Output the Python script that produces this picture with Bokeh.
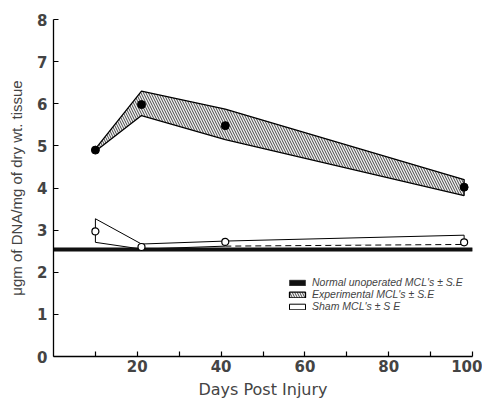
from bokeh.plotting import figure
from bokeh.models import Legend, LegendItem, FixedTicker, Range1d
from bokeh.embed import file_html
from bokeh.resources import INLINE

# ---- data ----
days = [10, 21, 41, 98]
exp_mean = [4.90, 5.98, 5.48, 4.02]
exp_upper = [4.93, 6.30, 5.87, 4.20]
exp_lower = [4.87, 5.72, 5.15, 3.82]

sham_mean = [2.97, 2.60, 2.72, 2.71]
sham_upper = [3.27, 2.67, 2.74, 2.88]
sham_lower = [2.71, 2.55, 2.62, 2.66]

normal_days = [0, 100]
normal_upper = [2.58, 2.58]
normal_lower = [2.50, 2.50]

x_major = [20, 40, 60, 80, 100]
x_minor = [10, 30, 50, 70, 90]
y_ticks = [0, 1, 2, 3, 4, 5, 6, 7, 8]

labels = ["Normal unoperated MCL's \u00b1 S.E",
          "Experimental MCL's \u00b1 S.E",
          "Sham MCL's \u00b1 S E"]

FONT = "Liberation Sans"
TFONT = "DejaVu Sans"

p = figure(width=482, height=401, output_backend="svg", toolbar_location=None,
           x_range=Range1d(0, 100), y_range=Range1d(0, 8),
           min_border_left=53, min_border_top=19, min_border_right=10, min_border_bottom=43)
p.outline_line_color = None
p.grid.grid_line_color = None

# sham band (outline only, transparent fill)
sham_xs = days + days[::-1]
sham_ys = sham_upper + sham_lower[::-1]
r_sham = p.patch(sham_xs, sham_ys, fill_color="white", fill_alpha=0.0,
                 line_color="black", line_width=1)
# dashed look of the lower edge on the late interval
p.line(days[2:], sham_lower[2:], line_color="white", line_width=2, line_dash="0 6 4 0")

# experimental band
exp_xs = days + days[::-1]
exp_ys = exp_upper + exp_lower[::-1]
r_exp = p.patch(exp_xs, exp_ys, fill_color="#f2f2f2", line_color="black", line_width=1.3,
                hatch_pattern="\\", hatch_color="#111111", hatch_alpha=0.85,
                hatch_scale=5, hatch_weight=0.9)

# normal band
norm_xs = normal_days + normal_days[::-1]
norm_ys = normal_upper + normal_lower[::-1]
r_norm = p.patch(norm_xs, norm_ys, fill_color="#111111", line_color="#111111", line_width=0.5)

# points
p.scatter(days, exp_mean, size=8, fill_color="black", line_color="black")
p.scatter(days, sham_mean, size=7, fill_color="white", line_color="black", line_width=1.2)

legend = Legend(items=[LegendItem(label=labels[0], renderers=[r_norm]),
                       LegendItem(label=labels[1], renderers=[r_exp]),
                       LegendItem(label=labels[2], renderers=[r_sham])],
                location=(234, 44), border_line_color=None, background_fill_alpha=0,
                padding=0, margin=0, spacing=0, glyph_width=20, glyph_height=7,
                label_height=11, label_standoff=5,
                label_text_font=FONT, label_text_font_style="italic",
                label_text_font_size="10.5px")
p.add_layout(legend, "center")

# axes
p.xaxis.ticker = FixedTicker(ticks=x_major, minor_ticks=x_minor)
p.yaxis.ticker = FixedTicker(ticks=y_ticks, minor_ticks=[])
for ax in (p.xaxis, p.yaxis):
    ax.major_tick_in = 5
    ax.major_tick_out = 0
    ax.axis_line_width = 1.3
    ax.major_tick_line_width = 1.2
    ax.major_label_text_font = TFONT
    ax.major_label_text_font_size = "15px"
    ax.major_label_text_font_style = "bold"
    ax.axis_label_text_font_style = "normal"
p.xaxis.axis_label_text_font = TFONT
p.xaxis.axis_label_text_font_size = "16px"
p.yaxis.axis_label_text_font = FONT
p.yaxis.axis_label_text_font_size = "15px"
p.xaxis.minor_tick_in = 5
p.xaxis.minor_tick_out = 0
p.xaxis.minor_tick_line_width = 1.2
p.yaxis.minor_tick_line_color = None
p.xaxis.major_label_standoff = 3
p.yaxis.major_label_standoff = 6
p.xaxis.axis_label = "Days Post Injury"
p.yaxis.axis_label = "\u03bcgm of DNA/mg of dry wt. tissue"
p.xaxis.axis_label_standoff = 5
p.yaxis.axis_label_standoff = 9

open("out.html", "w").write(file_html(p, INLINE))
